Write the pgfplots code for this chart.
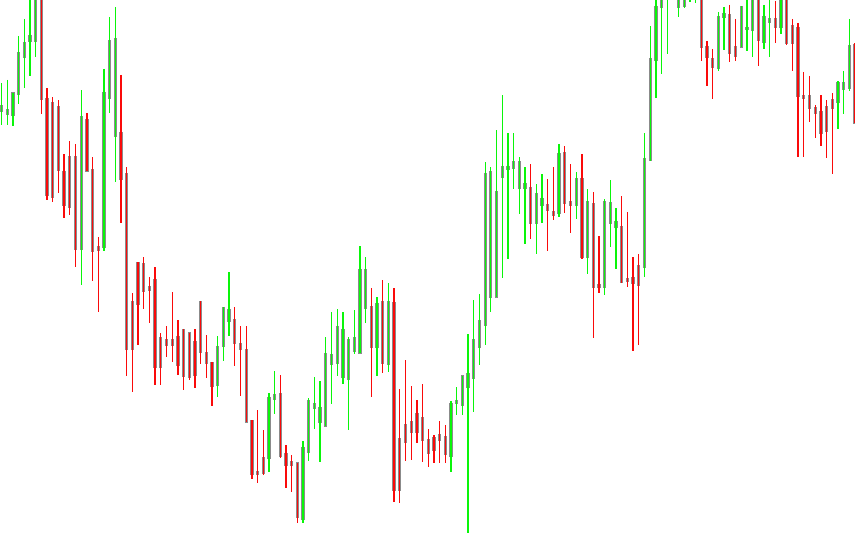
\documentclass[border=0pt]{standalone}
\usepackage{pgfplots}
\usepackage{pgfplotstable}
\pgfplotsset{compat=1.18}
\definecolor{upc}{RGB}{10,245,10}
\definecolor{dnc}{RGB}{250,10,10}
\definecolor{bodyc}{RGB}{100,100,100}
% candles in screen units (y grows downward): index, open, high, low, close
\pgfplotstableread{
i o h l c
1 111 83 125 106
2 114 80 125 110
3 115 93 126 93
4 94 36 104 53
5 57 19 88 43
6 41 -3 76 36
7 41 -12 57 -5
15 249 90 285 117
19 247 69 251 93
20 98 17 113 41
21 136 7 182 39
39 385 336 397 347
40 346 307 361 308
41 321 272 336 310
48 458 393 472 398
49 399 371 414 395
54 519 441 523 448
55 452 398 461 401
56 408 377 429 404
57 422 381 462 408
58 426 337 426 354
59 364 312 404 355
60 363 309 376 327
61 377 312 384 330
62 379 337 430 340
63 351 310 354 338
64 353 246 353 270
65 308 257 323 270
67 347 297 376 304
69 364 283 372 302
80 456 401 472 404
81 403 387 415 401
82 405 376 415 376
83 387 334 533 374
84 378 300 412 340
85 347 294 365 321
86 325 162 345 174
87 297 167 312 172
88 297 130 297 192
89 177 95 278 167
90 169 133 259 167
91 168 133 189 162
92 188 157 214 162
93 188 167 244 184
95 223 184 254 194
96 205 174 223 199
99 213 144 217 154
102 205 172 219 179
104 257 189 274 202
107 287 199 295 202
108 223 180 247 203
109 227 208 269 222
114 267 133 277 159
115 160 26 161 59
116 60 -5 98 7
117 7 -15 74 -5
118 -5 -20 54 -15
119 -10 -40 -5 -30
120 7 -25 17 -10
121 6 -30 8 -15
122 -5 -30 2 -20
123 -5 -30 3 -20
127 68 12 71 17
128 17 7 50 14
131 47 6 47 7
132 29 -5 51 28
133 30 -10 57 -5
135 42 5 49 17
136 22 -5 57 19
138 27 -10 34 -5
148 102 81 129 83
149 89 71 114 83
150 88 19 91 46
}\upcandles
\pgfplotstableread{
i o h l c
8 -5 -12 114 99
9 99 88 200 195
10 103 97 202 197
11 107 100 193 170
12 172 154 218 205
13 157 141 215 207
14 157 144 267 249
16 120 113 171 171
17 170 157 281 251
18 247 237 312 250
22 133 75 223 179
23 174 167 376 349
24 302 293 392 349
25 263 262 345 304
26 264 257 309 291
27 287 277 323 290
28 280 267 385 367
29 338 333 385 367
30 340 326 357 345
31 340 292 362 345
32 337 320 375 365
33 330 329 390 376
34 333 333 380 377
35 342 329 388 375
36 302 301 364 352
37 353 335 378 363
38 363 362 406 386
42 320 307 366 343
43 344 326 396 349
44 350 326 422 422
45 421 420 479 474
46 472 410 483 474
47 458 430 475 473
50 394 375 458 456
51 454 445 488 465
52 462 455 492 465
53 463 463 523 517
66 307 288 397 347
68 302 280 373 363
70 303 288 502 490
71 439 389 503 490
72 425 360 461 442
73 422 386 460 432
74 414 400 443 432
75 418 384 462 440
76 440 429 467 453
77 438 435 463 450
78 435 421 463 440
79 437 425 463 454
94 188 164 239 223
97 205 179 251 210
98 212 167 220 215
100 153 146 213 203
101 202 164 233 205
103 179 154 259 257
105 204 192 338 287
106 285 236 293 287
110 227 196 283 282
111 279 212 287 281
112 278 257 351 283
113 266 254 345 285
124 -10 -20 61 47
125 47 41 86 57
126 59 49 99 67
129 15 5 62 53
130 47 19 61 56
134 -5 -10 66 40
137 19 1 43 27
139 -5 -10 45 43
140 26 19 71 43
141 28 23 157 96
142 96 72 157 98
143 96 76 122 108
144 108 105 138 113
145 112 95 146 133
146 107 100 158 131
147 100 93 174 108
151 45 43 123 123
}\downcandles
\pgfplotsset{
  body/.style={draw=none, mark=none, forget plot,
    error bars/.cd, y dir=plus, y explicit, error mark=none,
    error bar style={line width=3.3bp, draw=bodyc, draw opacity=0.75}},
  wick/.style={draw=none, mark=none, forget plot,
    error bars/.cd, y dir=plus, y explicit, error mark=none,
    error bar style={line width=1.3bp, draw=#1}},
}
\begin{document}
\begin{tikzpicture}
\begin{axis}[width=855bp, height=534bp, scale only axis, hide axis,
  xmin=0, xmax=855, ymin=0, ymax=534, y dir=reverse, clip=true]
% bodies
\addplot[body] table[x expr={1.5+5.69*(\thisrow{i}-1)}, y expr={min(\thisrow{o},\thisrow{c})-0.7}, y error expr={abs(\thisrow{o}-\thisrow{c})+1.4}] {\upcandles};
\addplot[body] table[x expr={1.5+5.69*(\thisrow{i}-1)}, y expr={min(\thisrow{o},\thisrow{c})-0.7}, y error expr={abs(\thisrow{o}-\thisrow{c})+1.4}] {\downcandles};
% wicks
\addplot[wick=upc] table[x expr={1.5+5.69*(\thisrow{i}-1)}, y=h, y error expr={\thisrow{l}-\thisrow{h}}] {\upcandles};
\addplot[wick=dnc] table[x expr={1.5+5.69*(\thisrow{i}-1)}, y=h, y error expr={\thisrow{l}-\thisrow{h}}] {\downcandles};
\end{axis}
\pgfresetboundingbox
\path (current axis.south west) rectangle (current axis.north east);
\end{tikzpicture}
\end{document}
